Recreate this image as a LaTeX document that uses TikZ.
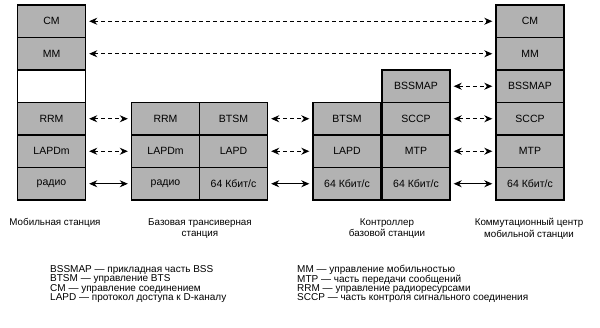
\documentclass[tikz,border=0pt]{standalone}
\usepackage{fontspec}
\setmainfont{Liberation Sans}
\usetikzlibrary{arrows.meta}
\tikzset{
  layer/.style={draw, line width=1.4pt, fill=gray!60, minimum width=68pt,
    minimum height=32.5pt, inner sep=0pt, font=\fontsize{10.5}{12}\selectfont},
  blank/.style={layer, fill=white},
  peer/.style={<->, >={Stealth[length=8pt,width=7pt]}, line width=0.8pt,
    shorten <=3pt, shorten >=3pt, dash pattern=on 4pt off 3pt},
  wire/.style={peer, solid},
  caption/.style={align=center, font=\fontsize{9.8}{11.5}\selectfont},
  legend/.style={anchor=west, inner sep=0pt, font=\fontsize{10}{10}\selectfont}
}
\begin{document}
\begin{tikzpicture}[x=1pt,y=-1pt]
\useasboundingbox (0,0) rectangle (600,327);
% mobile station
\node[layer] (ms6) at (51.5,21.25) {CM};
\node[layer] (ms5) at (51.5,53.75) {MM};
\node[blank] (ms4) at (51.5,86.25) {};
\node[layer] (ms3) at (51.5,118.75) {RRM};
\node[layer] (ms2) at (51.5,151.25) {LAPDm};
\node[layer] (ms1) at (51.5,183.75) {радио};
% base transceiver station
\node[layer] (btsa3) at (165.5,118.75) {RRM};
\node[layer] (btsa2) at (165.5,151.25) {LAPDm};
\node[layer] (btsa1) at (165.5,183.75) {радио};
\node[layer] (btsb3) at (233.5,118.75) {BTSM};
\node[layer] (btsb2) at (233.5,151.25) {LAPD};
\node[layer] (btsb1) at (233.5,183.75) {64 Кбит/с};
% base station controller
\node[layer] (bsca3) at (347,118.75) {BTSM};
\node[layer] (bsca2) at (347,151.25) {LAPD};
\node[layer] (bsca1) at (347,183.75) {64 Кбит/с};
\node[layer] (bscb4) at (416,86.25) {BSSMAP};
\node[layer] (bscb3) at (416,118.75) {SCCP};
\node[layer] (bscb2) at (416,151.25) {MTP};
\node[layer] (bscb1) at (416,183.75) {64 Кбит/с};
% mobile switching centre
\node[layer] (msc6) at (530,21.25) {CM};
\node[layer] (msc5) at (530,53.75) {MM};
\node[layer] (msc4) at (530,86.25) {BSSMAP};
\node[layer] (msc3) at (530,118.75) {SCCP};
\node[layer] (msc2) at (530,151.25) {MTP};
\node[layer] (msc1) at (530,183.75) {64 Кбит/с};
% peer links
\draw[peer] (ms6.east) -- (msc6.west);
\draw[peer] (ms5.east) -- (msc5.west);
\draw[peer] (ms3.east) -- (btsa3.west);
\draw[peer] (ms2.east) -- (btsa2.west);
\draw[wire] (ms1.east) -- (btsa1.west);
\draw[peer] (btsb3.east) -- (bsca3.west);
\draw[peer] (btsb2.east) -- (bsca2.west);
\draw[wire] (btsb1.east) -- (bsca1.west);
\draw[peer] (bscb4.east) -- (msc4.west);
\draw[peer] (bscb3.east) -- (msc3.west);
\draw[peer] (bscb2.east) -- (msc2.west);
\draw[wire] (bscb1.east) -- (msc1.west);
% captions
\node[caption, anchor=north] (msname) at (55,215) {Мобильная станция};
\node[caption, anchor=north] (btsname) at (200,215) {Базовая трансиверная\\станция};
\node[caption, anchor=north] (bscname) at (387,215) {Контроллер\\базовой станции};
\node[caption, anchor=north] (mscname) at (529,215) {Коммутационный центр\\мобильной станции};
% legend
\node[legend] (keya) at (50,270) {BSSMAP — прикладная часть BSS};
\node[legend] (keyb) at (50,279.5) {BTSM — управление BTS};
\node[legend] (keyc) at (50,289) {CM — управление соединением};
\node[legend] (keyd) at (50,298.5) {LAPD — протокол доступа к D-каналу};
\node[legend] (keye) at (297,270) {MM — управление мобильностью};
\node[legend] (keyf) at (297,279.5) {MTP — часть передачи сообщений};
\node[legend] (keyg) at (297,289) {RRM — управление радиоресурсами};
\node[legend] (keyh) at (297,298.5) {SCCP — часть контроля сигнального соединения};
\end{tikzpicture}
\end{document}
